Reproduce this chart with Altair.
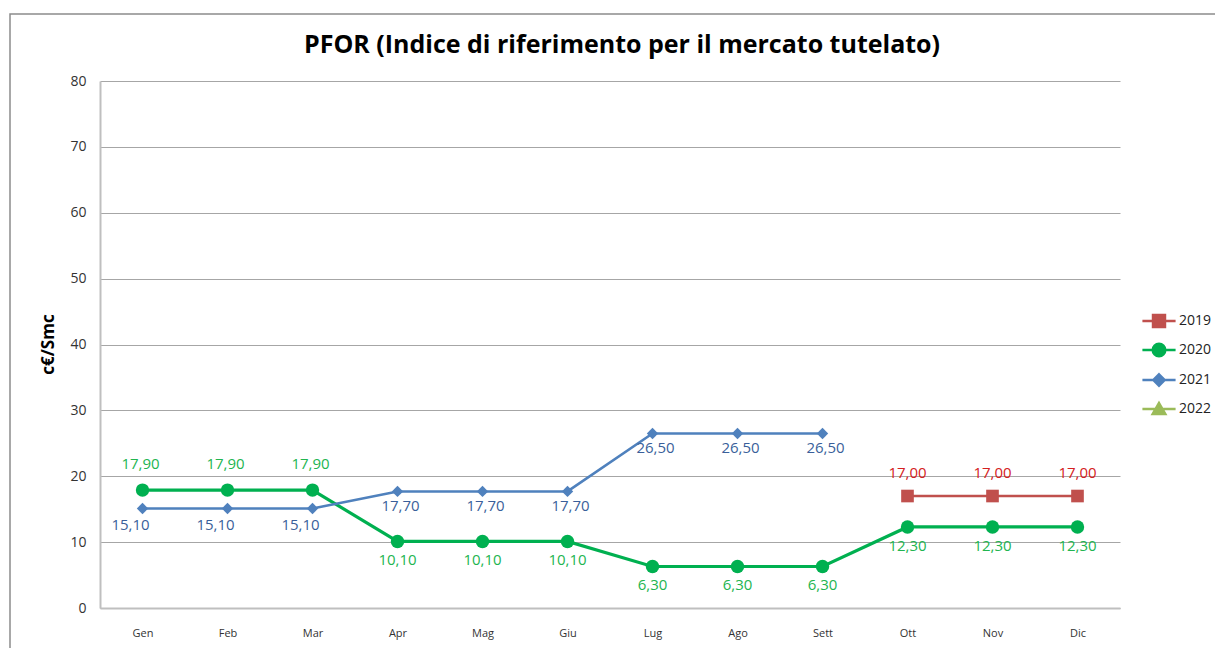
import altair as alt
import pandas as pd

months = ["Gen", "Feb", "Mar", "Apr", "Mag", "Giu", "Lug", "Ago", "Sett", "Ott", "Nov", "Dic"]
years = ["2019", "2020", "2021", "2022"]
v2019 = [None, None, None, None, None, None, None, None, None, 17.00, 17.00, 17.00]
v2020 = [17.90, 17.90, 17.90, 10.10, 10.10, 10.10, 6.30, 6.30, 6.30, 12.30, 12.30, 12.30]
v2021 = [15.10, 15.10, 15.10, 17.70, 17.70, 17.70, 26.50, 26.50, 26.50, None, None, None]
v2022 = [None] * 12
y_ticks = [0, 10, 20, 30, 40, 50, 60, 70, 80]
title_text = "PFOR (Indice di riferimento per il mercato tutelato)"

series = {"2019": v2019, "2020": v2020, "2021": v2021, "2022": v2022}
rows = []
for yr, vals in series.items():
    for m, v in zip(months, vals):
        if v is not None:
            rows.append({"year": yr, "month": m, "value": v})
df = pd.DataFrame(rows)

line_colors = ["#C0504D", "#00B050", "#4F81BD", "#9BBB59"]
label_colors = {"2019": "#D42020", "2020": "#22B550", "2021": "#3A5F9A"}

x_enc = alt.X("month:N", sort=months, scale=alt.Scale(domain=months, type="point", padding=0.5),
              axis=alt.Axis(title=None, labelFontSize=11, labelColor="#333333", labelPadding=19,
                            ticks=False, domainColor="#BFBFBF", domainWidth=2, labelFont="Open Sans",
                            labelAngle=0))
y_enc = alt.Y("value:Q", scale=alt.Scale(domain=[0, 80], nice=False, zero=True),
              axis=alt.Axis(values=y_ticks, title="c€/Smc", titleFontSize=17, titleFontWeight="bold",
                            titleColor="#000000", titleFont="Open Sans", titleX=-52, titleY=263,
                            titleAngle=-90, titleBaseline="middle",
                            labelFontSize=14, labelColor="#333333", labelPadding=14, labelFont="Open Sans",
                            ticks=False, domainColor="#BFBFBF", domainWidth=2,
                            grid=True, gridColor="#A6A6A6", gridWidth=1))

base = alt.Chart(df).transform_calculate(
    label="replace(format(datum.value, '.2f'), '.', ',')"
)


def series_layers(yr, color, shape, size, width):
    b = base.transform_filter(alt.datum.year == yr)
    line = b.mark_line(color=color, strokeWidth=width).encode(x=x_enc, y=y_enc)
    pts = b.mark_point(color=color, filled=True, shape=shape, size=size, opacity=1).encode(x=x_enc, y=y_enc)
    return [line, pts]


def label_layer(yr, months_sel, dy, dx, lcolor):
    b = base.transform_filter(alt.datum.year == yr).transform_filter(
        alt.FieldOneOfPredicate(field="month", oneOf=months_sel))
    return b.mark_text(dy=dy, dx=dx, color=lcolor, fontSize=15, font="Open Sans").encode(
        x=x_enc, y=y_enc, text="label:N")


layers = []
layers += series_layers("2019", "#C0504D", "square", 160, 2.5)
layers += series_layers("2020", "#00B050", "circle", 180, 3.2)
layers += series_layers("2021", "#4F81BD", "diamond", 130, 2.5)

layers.append(label_layer("2019", months[9:], -23, 0, label_colors["2019"]))
layers.append(label_layer("2020", months[:3], -26, -2, label_colors["2020"]))
layers.append(label_layer("2020", months[3:], 19, 0, label_colors["2020"]))
layers.append(label_layer("2021", months[:3], 16, -12, label_colors["2021"]))
layers.append(label_layer("2021", months[3:9], 15, 3, label_colors["2021"]))

legend_paths = [
    "M-1,0H1M-0.36,-0.36H0.36V0.36H-0.36Z",
    "M-1,0H1M-0.38,0A0.38,0.38,0,1,1,0.38,0A0.38,0.38,0,1,1,-0.38,0Z",
    "M-1,0H1M0,-0.34L0.34,0L0,0.34L-0.34,0Z",
    "M-1,0H1M0,-0.36L0.38,0.3L-0.38,0.3Z",
]
leg = alt.Legend(title=None, orient="none", legendX=1041, legendY=222, symbolSize=1100,
                 symbolStrokeWidth=2.5, labelFontSize=14, labelColor="#222222", labelFont="Open Sans",
                 rowPadding=-5, labelOffset=2, symbolOpacity=1)
legend_layer = alt.Chart(df).transform_filter("false").mark_point(filled=True).encode(
    color=alt.Color("year:N", scale=alt.Scale(domain=years, range=line_colors), legend=leg),
    stroke=alt.Stroke("year:N", scale=alt.Scale(domain=years, range=line_colors), legend=leg),
    shape=alt.Shape("year:N", scale=alt.Scale(domain=years, range=legend_paths), legend=leg),
)
layers.append(legend_layer)

frame = alt.Chart(pd.DataFrame({"a": [0]})).mark_rect(
    fill="transparent", stroke="#8C8C8C", strokeWidth=1.5
).encode(x=alt.value(-90), x2=alt.value(1140), y=alt.value(-67), y2=alt.value(620))
layers.insert(0, frame)

title = alt.Chart(pd.DataFrame({"t": [title_text]})).mark_text(
    fontSize=25, fontWeight="bold", font="Open Sans", color="#000000", align="center", baseline="middle"
).encode(text="t:N", x=alt.value(522), y=alt.value(-36))
layers.append(title)

chart = alt.layer(*layers).properties(
    width=1020, height=527,
    autosize=alt.AutoSizeParams(type="none"),
    padding={"left": 92, "top": 73, "right": 95, "bottom": 40},
    background="white",
).configure_view(stroke=None)

chart.save("out.html", embed_options={"renderer": "svg", "actions": False})
